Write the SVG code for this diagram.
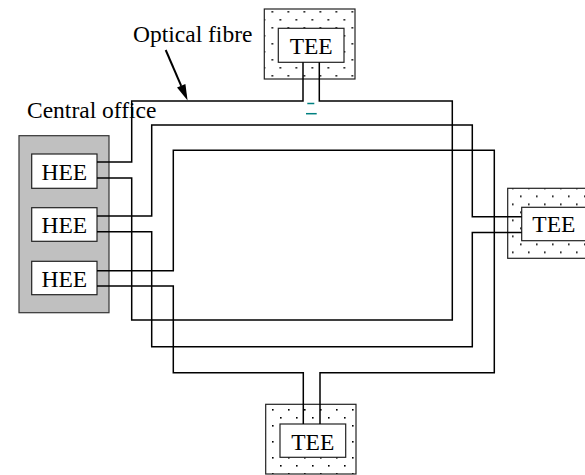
<svg xmlns="http://www.w3.org/2000/svg" width="585" height="475" viewBox="0 0 585 475">
<style>
  text { font-family: "Liberation Serif", "Times New Roman", serif; font-size: 23.5px; fill: #000; }
  .box { fill: #fff; stroke: #222; stroke-width: 1.2; }
  .wire { fill: none; stroke: #000; stroke-width: 1.5; }
  .office { fill: #c0c0c0; stroke: #333; stroke-width: 1.2; }
  .mark { stroke: #008080; stroke-width: 1.5; }
</style>
<defs>
  <pattern id="dotsTop" patternUnits="userSpaceOnUse" x="271.5" y="11" width="16" height="16">
    <rect width="16" height="16" fill="#fff"/>
    <rect x="0" y="0" width="1.6" height="1.6" fill="#000"/>
    <rect x="8" y="8" width="1.6" height="1.6" fill="#000"/>
  </pattern>
  <pattern id="dotsRight" patternUnits="userSpaceOnUse" x="520" y="195.5" width="16" height="16">
    <rect width="16" height="16" fill="#fff"/>
    <rect x="0" y="0" width="1.6" height="1.6" fill="#000"/>
    <rect x="8" y="8" width="1.6" height="1.6" fill="#000"/>
  </pattern>
  <pattern id="dotsBottom" patternUnits="userSpaceOnUse" x="272" y="409" width="16" height="16">
    <rect width="16" height="16" fill="#fff"/>
    <rect x="0" y="0" width="1.6" height="1.6" fill="#000"/>
    <rect x="8" y="8" width="1.6" height="1.6" fill="#000"/>
  </pattern>
</defs>
<rect width="585" height="475" fill="#fff"/>

<g id="label-optical-fibre">
  <text x="133" y="41.7">Optical fibre</text>
  <line x1="165.7" y1="50" x2="181.2" y2="85.8" stroke="#000" stroke-width="2"/>
  <polygon points="187.6,100.6 185.4,83.9 177,87.6" fill="#000"/>
</g>

<g id="central-office">
  <text x="27" y="118.3">Central office</text>
  <rect class="office" x="19" y="135.7" width="90" height="177"/>
</g>

<g id="hee1">
  <rect class="box" x="31.7" y="154" width="65.3" height="34.3"/>
  <text x="64.3" y="180" text-anchor="middle">HEE</text>
</g>
<g id="hee2">
  <rect class="box" x="31.7" y="207.7" width="65.3" height="33.6"/>
  <text x="64.3" y="233.3" text-anchor="middle">HEE</text>
</g>
<g id="hee3">
  <rect class="box" x="31.7" y="261.3" width="65.3" height="33.4"/>
  <text x="64.3" y="286.7" text-anchor="middle">HEE</text>
</g>

<g id="tee-top">
  <rect class="box" x="264.3" y="9" width="90.7" height="70" fill="url(#dotsTop)" style="fill:url(#dotsTop)"/>
  <rect class="box" x="278.3" y="28.3" width="65.7" height="34"/>
  <text x="311.2" y="53.7" text-anchor="middle">TEE</text>
</g>
<g id="tee-right">
  <rect class="box" x="507.7" y="188.3" width="85" height="70" style="fill:url(#dotsRight)"/>
  <rect class="box" x="521.7" y="207.3" width="70" height="33.4"/>
  <text x="532.3" y="231.7">TEE</text>
</g>
<g id="tee-bottom">
  <rect class="box" x="265.7" y="404.3" width="90.3" height="69.7" style="fill:url(#dotsBottom)"/>
  <rect class="box" x="280" y="424" width="65.7" height="33.3"/>
  <text x="312.8" y="449.7" text-anchor="middle">TEE</text>
</g>

<g id="connectors">
  <polyline class="wire" points="97,162 131.7,162 131.7,101 303,101 303,62.3"/>
  <polyline class="wire" points="319.3,62.3 319.3,101 452.3,101 452.3,320 131.7,320 131.7,178 97,178"/>
  <polyline class="wire" points="97,216 151.7,216 151.7,125 472.3,125 472.3,216.7 521.7,216.7"/>
  <polyline class="wire" points="521.7,232.5 472.3,232.5 472.3,346.7 151.7,346.7 151.7,231.7 97,231.7"/>
  <polyline class="wire" points="97,270.7 173.3,270.7 173.3,150.3 494.3,150.3 494.3,372.7 320,372.7 320,424"/>
  <polyline class="wire" points="303.3,424 303.3,372.7 173.3,372.7 173.3,286 97,286"/>
  <line class="mark" x1="307.3" y1="103.5" x2="314.3" y2="103.5"/>
  <line class="mark" x1="306" y1="113.7" x2="316.7" y2="113.7"/>
</g>
</svg>
